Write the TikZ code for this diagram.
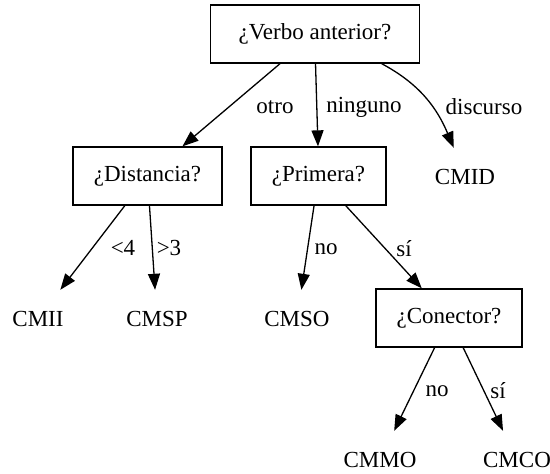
\documentclass[tikz,border=0pt]{standalone}
\usepackage{fontspec}
\setmainfont{Liberation Serif}
\usetikzlibrary{arrows.meta}
\begin{document}
\begin{tikzpicture}[x=1pt,y=-1pt,
  every node/.style={font=\fontsize{23}{27}\selectfont, inner sep=0pt},
  qbox/.style={draw, line width=1.3pt, minimum height=58pt},
  leaf/.style={minimum height=58pt, minimum width=70pt},
  lbl/.style={anchor=center},
  edge/.style={line width=1.3pt, -{Triangle[length=16pt,width=12pt]}}]
\useasboundingbox (0,0) rectangle (550,474);
\node[qbox, minimum width=209pt] (root) at (315,34) {¿Verbo anterior?};
\node[qbox, minimum width=149pt] (dist) at (147.5,176) {¿Distancia?};
\node[qbox, minimum width=135pt] (prim) at (318.5,176) {¿Primera?};
\node[leaf] (cmid) at (465,177) {CMID};
\node[leaf] (cmii) at (38,319) {CMII};
\node[leaf] (cmsp) at (157,319) {CMSP};
\node[leaf] (cmso) at (297,319) {CMSO};
\node[qbox, minimum width=146pt] (con) at (449,318) {¿Conector?};
\node[leaf] (cmmo) at (380,460) {CMMO};
\node[leaf] (cmco) at (517,460) {CMCO};
\draw[edge] (root) -- (dist);
\draw[edge] (root.-89) -- (prim.91);
\draw[edge] (root.-24.7) to[out=-28,in=113] (cmid.111.8);
\draw[edge] (dist) -- (cmii);
\draw[edge] (dist) -- (cmsp);
\draw[edge] (prim) -- (cmso);
\draw[edge] (prim) -- (con);
\draw[edge] (con) -- (cmmo);
\draw[edge] (con) -- (cmco);
\node[lbl] (l1) at (275,107) {otro};
\node[lbl] (l2) at (364,107) {ninguno};
\node[lbl] (l3) at (484,107) {discurso};
\node[lbl] (l4) at (123,248) {<4};
\node[lbl] (l5) at (169,248) {>3};
\node[lbl] (l6) at (326,249) {no};
\node[lbl] (l7) at (404,249) {sí};
\node[lbl] (l8) at (437,391) {no};
\node[lbl] (l9) at (498,391) {sí};
\end{tikzpicture}
\end{document}
